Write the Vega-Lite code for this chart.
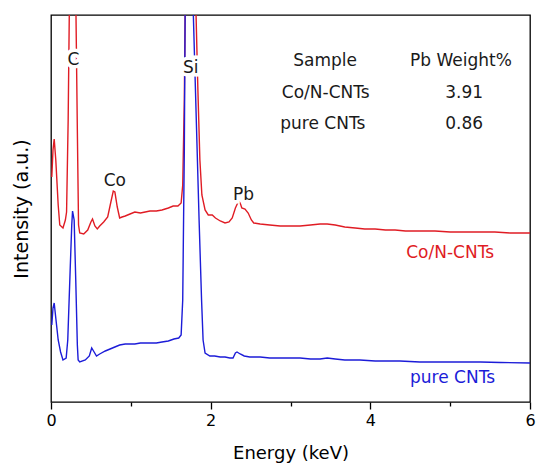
{
  "$schema": "https://vega.github.io/schema/vega-lite/v6.json",
  "width": 479,
  "height": 387,
  "autosize": {"type": "none"},
  "padding": {"left": 51, "top": 15, "right": 7, "bottom": 62},
  "background": "white",
  "config": {
    "view": {"stroke": "black", "strokeWidth": 1.3},
    "font": "DejaVu Sans",
    "text": {"font": "DejaVu Sans"}
  },
  "datasets": {
    "spectra": [
      {"sample": "Co/N-CNTs", "energy": 0.01, "intensity": 225},
      {"sample": "Co/N-CNTs", "energy": 0.025, "intensity": 252},
      {"sample": "Co/N-CNTs", "energy": 0.04, "intensity": 263},
      {"sample": "Co/N-CNTs", "energy": 0.06, "intensity": 242},
      {"sample": "Co/N-CNTs", "energy": 0.09, "intensity": 197},
      {"sample": "Co/N-CNTs", "energy": 0.11, "intensity": 177},
      {"sample": "Co/N-CNTs", "energy": 0.15, "intensity": 174},
      {"sample": "Co/N-CNTs", "energy": 0.18, "intensity": 182},
      {"sample": "Co/N-CNTs", "energy": 0.195, "intensity": 190},
      {"sample": "Co/N-CNTs", "energy": 0.215, "intensity": 282},
      {"sample": "Co/N-CNTs", "energy": 0.229, "intensity": 387},
      {"sample": "Co/N-CNTs", "energy": 0.25, "intensity": 600},
      {"sample": "Co/N-CNTs", "energy": 0.275, "intensity": 700},
      {"sample": "Co/N-CNTs", "energy": 0.30, "intensity": 500},
      {"sample": "Co/N-CNTs", "energy": 0.313, "intensity": 387},
      {"sample": "Co/N-CNTs", "energy": 0.33, "intensity": 272},
      {"sample": "Co/N-CNTs", "energy": 0.345, "intensity": 177},
      {"sample": "Co/N-CNTs", "energy": 0.36, "intensity": 169},
      {"sample": "Co/N-CNTs", "energy": 0.41, "intensity": 168},
      {"sample": "Co/N-CNTs", "energy": 0.46, "intensity": 172},
      {"sample": "Co/N-CNTs", "energy": 0.50, "intensity": 180},
      {"sample": "Co/N-CNTs", "energy": 0.52, "intensity": 183},
      {"sample": "Co/N-CNTs", "energy": 0.55, "intensity": 176},
      {"sample": "Co/N-CNTs", "energy": 0.58, "intensity": 173},
      {"sample": "Co/N-CNTs", "energy": 0.61, "intensity": 176},
      {"sample": "Co/N-CNTs", "energy": 0.66, "intensity": 180},
      {"sample": "Co/N-CNTs", "energy": 0.71, "intensity": 185},
      {"sample": "Co/N-CNTs", "energy": 0.75, "intensity": 200},
      {"sample": "Co/N-CNTs", "energy": 0.78, "intensity": 211},
      {"sample": "Co/N-CNTs", "energy": 0.80, "intensity": 210},
      {"sample": "Co/N-CNTs", "energy": 0.83, "intensity": 195},
      {"sample": "Co/N-CNTs", "energy": 0.86, "intensity": 184},
      {"sample": "Co/N-CNTs", "energy": 0.89, "intensity": 185},
      {"sample": "Co/N-CNTs", "energy": 0.93, "intensity": 186},
      {"sample": "Co/N-CNTs", "energy": 0.99, "intensity": 188},
      {"sample": "Co/N-CNTs", "energy": 1.05, "intensity": 190},
      {"sample": "Co/N-CNTs", "energy": 1.12, "intensity": 189},
      {"sample": "Co/N-CNTs", "energy": 1.18, "intensity": 190},
      {"sample": "Co/N-CNTs", "energy": 1.24, "intensity": 191},
      {"sample": "Co/N-CNTs", "energy": 1.32, "intensity": 191},
      {"sample": "Co/N-CNTs", "energy": 1.39, "intensity": 192},
      {"sample": "Co/N-CNTs", "energy": 1.47, "intensity": 194},
      {"sample": "Co/N-CNTs", "energy": 1.53, "intensity": 196},
      {"sample": "Co/N-CNTs", "energy": 1.59, "intensity": 196},
      {"sample": "Co/N-CNTs", "energy": 1.63, "intensity": 199},
      {"sample": "Co/N-CNTs", "energy": 1.65, "intensity": 217},
      {"sample": "Co/N-CNTs", "energy": 1.67, "intensity": 302},
      {"sample": "Co/N-CNTs", "energy": 1.68, "intensity": 387},
      {"sample": "Co/N-CNTs", "energy": 1.72, "intensity": 700},
      {"sample": "Co/N-CNTs", "energy": 1.77, "intensity": 700},
      {"sample": "Co/N-CNTs", "energy": 1.817, "intensity": 387},
      {"sample": "Co/N-CNTs", "energy": 1.84, "intensity": 312},
      {"sample": "Co/N-CNTs", "energy": 1.865, "intensity": 242},
      {"sample": "Co/N-CNTs", "energy": 1.89, "intensity": 207},
      {"sample": "Co/N-CNTs", "energy": 1.93, "intensity": 192},
      {"sample": "Co/N-CNTs", "energy": 1.97, "intensity": 187},
      {"sample": "Co/N-CNTs", "energy": 2.02, "intensity": 187},
      {"sample": "Co/N-CNTs", "energy": 2.06, "intensity": 184},
      {"sample": "Co/N-CNTs", "energy": 2.12, "intensity": 181},
      {"sample": "Co/N-CNTs", "energy": 2.18, "intensity": 179},
      {"sample": "Co/N-CNTs", "energy": 2.23, "intensity": 180},
      {"sample": "Co/N-CNTs", "energy": 2.27, "intensity": 184},
      {"sample": "Co/N-CNTs", "energy": 2.31, "intensity": 194},
      {"sample": "Co/N-CNTs", "energy": 2.35, "intensity": 201},
      {"sample": "Co/N-CNTs", "energy": 2.37, "intensity": 199},
      {"sample": "Co/N-CNTs", "energy": 2.39, "intensity": 194},
      {"sample": "Co/N-CNTs", "energy": 2.43, "intensity": 193},
      {"sample": "Co/N-CNTs", "energy": 2.47, "intensity": 189},
      {"sample": "Co/N-CNTs", "energy": 2.51, "intensity": 182},
      {"sample": "Co/N-CNTs", "energy": 2.54, "intensity": 179},
      {"sample": "Co/N-CNTs", "energy": 2.62, "intensity": 178},
      {"sample": "Co/N-CNTs", "energy": 2.74, "intensity": 177},
      {"sample": "Co/N-CNTs", "energy": 2.87, "intensity": 176},
      {"sample": "Co/N-CNTs", "energy": 3.0, "intensity": 176},
      {"sample": "Co/N-CNTs", "energy": 3.12, "intensity": 176},
      {"sample": "Co/N-CNTs", "energy": 3.25, "intensity": 177},
      {"sample": "Co/N-CNTs", "energy": 3.37, "intensity": 178},
      {"sample": "Co/N-CNTs", "energy": 3.46, "intensity": 178},
      {"sample": "Co/N-CNTs", "energy": 3.56, "intensity": 177},
      {"sample": "Co/N-CNTs", "energy": 3.68, "intensity": 175},
      {"sample": "Co/N-CNTs", "energy": 3.81, "intensity": 174},
      {"sample": "Co/N-CNTs", "energy": 3.93, "intensity": 173},
      {"sample": "Co/N-CNTs", "energy": 4.06, "intensity": 173},
      {"sample": "Co/N-CNTs", "energy": 4.19, "intensity": 172},
      {"sample": "Co/N-CNTs", "energy": 4.31, "intensity": 172},
      {"sample": "Co/N-CNTs", "energy": 4.44, "intensity": 171},
      {"sample": "Co/N-CNTs", "energy": 4.56, "intensity": 171},
      {"sample": "Co/N-CNTs", "energy": 4.69, "intensity": 171},
      {"sample": "Co/N-CNTs", "energy": 4.81, "intensity": 171},
      {"sample": "Co/N-CNTs", "energy": 5.0, "intensity": 170},
      {"sample": "Co/N-CNTs", "energy": 5.19, "intensity": 170},
      {"sample": "Co/N-CNTs", "energy": 5.38, "intensity": 170},
      {"sample": "Co/N-CNTs", "energy": 5.56, "intensity": 170},
      {"sample": "Co/N-CNTs", "energy": 5.75, "intensity": 169},
      {"sample": "Co/N-CNTs", "energy": 6.0, "intensity": 169},
      {"sample": "pure CNTs", "energy": 0.01, "intensity": 77},
      {"sample": "pure CNTs", "energy": 0.025, "intensity": 94},
      {"sample": "pure CNTs", "energy": 0.04, "intensity": 99},
      {"sample": "pure CNTs", "energy": 0.06, "intensity": 84},
      {"sample": "pure CNTs", "energy": 0.09, "intensity": 62},
      {"sample": "pure CNTs", "energy": 0.12, "intensity": 50},
      {"sample": "pure CNTs", "energy": 0.15, "intensity": 42},
      {"sample": "pure CNTs", "energy": 0.19, "intensity": 44},
      {"sample": "pure CNTs", "energy": 0.21, "intensity": 62},
      {"sample": "pure CNTs", "energy": 0.24, "intensity": 132},
      {"sample": "pure CNTs", "energy": 0.26, "intensity": 177},
      {"sample": "pure CNTs", "energy": 0.27, "intensity": 191},
      {"sample": "pure CNTs", "energy": 0.29, "intensity": 182},
      {"sample": "pure CNTs", "energy": 0.31, "intensity": 122},
      {"sample": "pure CNTs", "energy": 0.33, "intensity": 57},
      {"sample": "pure CNTs", "energy": 0.34, "intensity": 42},
      {"sample": "pure CNTs", "energy": 0.36, "intensity": 40},
      {"sample": "pure CNTs", "energy": 0.43, "intensity": 42},
      {"sample": "pure CNTs", "energy": 0.48, "intensity": 46},
      {"sample": "pure CNTs", "energy": 0.51, "intensity": 54},
      {"sample": "pure CNTs", "energy": 0.54, "intensity": 50},
      {"sample": "pure CNTs", "energy": 0.57, "intensity": 46},
      {"sample": "pure CNTs", "energy": 0.61, "intensity": 48},
      {"sample": "pure CNTs", "energy": 0.68, "intensity": 51},
      {"sample": "pure CNTs", "energy": 0.74, "intensity": 53},
      {"sample": "pure CNTs", "energy": 0.80, "intensity": 55},
      {"sample": "pure CNTs", "energy": 0.86, "intensity": 57},
      {"sample": "pure CNTs", "energy": 0.93, "intensity": 58},
      {"sample": "pure CNTs", "energy": 0.99, "intensity": 58},
      {"sample": "pure CNTs", "energy": 1.05, "intensity": 58},
      {"sample": "pure CNTs", "energy": 1.12, "intensity": 59},
      {"sample": "pure CNTs", "energy": 1.18, "intensity": 59},
      {"sample": "pure CNTs", "energy": 1.24, "intensity": 59},
      {"sample": "pure CNTs", "energy": 1.32, "intensity": 59},
      {"sample": "pure CNTs", "energy": 1.39, "intensity": 60},
      {"sample": "pure CNTs", "energy": 1.47, "intensity": 61},
      {"sample": "pure CNTs", "energy": 1.54, "intensity": 63},
      {"sample": "pure CNTs", "energy": 1.60, "intensity": 64},
      {"sample": "pure CNTs", "energy": 1.63, "intensity": 67},
      {"sample": "pure CNTs", "energy": 1.65, "intensity": 102},
      {"sample": "pure CNTs", "energy": 1.67, "intensity": 252},
      {"sample": "pure CNTs", "energy": 1.68, "intensity": 387},
      {"sample": "pure CNTs", "energy": 1.70, "intensity": 700},
      {"sample": "pure CNTs", "energy": 1.74, "intensity": 700},
      {"sample": "pure CNTs", "energy": 1.783, "intensity": 387},
      {"sample": "pure CNTs", "energy": 1.82, "intensity": 282},
      {"sample": "pure CNTs", "energy": 1.855, "intensity": 182},
      {"sample": "pure CNTs", "energy": 1.886, "intensity": 102},
      {"sample": "pure CNTs", "energy": 1.905, "intensity": 62},
      {"sample": "pure CNTs", "energy": 1.93, "intensity": 49},
      {"sample": "pure CNTs", "energy": 1.99, "intensity": 46},
      {"sample": "pure CNTs", "energy": 2.05, "intensity": 46},
      {"sample": "pure CNTs", "energy": 2.12, "intensity": 45},
      {"sample": "pure CNTs", "energy": 2.18, "intensity": 45},
      {"sample": "pure CNTs", "energy": 2.24, "intensity": 44},
      {"sample": "pure CNTs", "energy": 2.28, "intensity": 44},
      {"sample": "pure CNTs", "energy": 2.31, "intensity": 49},
      {"sample": "pure CNTs", "energy": 2.33, "intensity": 50},
      {"sample": "pure CNTs", "energy": 2.37, "intensity": 48},
      {"sample": "pure CNTs", "energy": 2.42, "intensity": 46},
      {"sample": "pure CNTs", "energy": 2.49, "intensity": 45},
      {"sample": "pure CNTs", "energy": 2.62, "intensity": 45},
      {"sample": "pure CNTs", "energy": 2.74, "intensity": 44},
      {"sample": "pure CNTs", "energy": 2.87, "intensity": 44},
      {"sample": "pure CNTs", "energy": 3.0, "intensity": 44},
      {"sample": "pure CNTs", "energy": 3.12, "intensity": 44},
      {"sample": "pure CNTs", "energy": 3.25, "intensity": 43},
      {"sample": "pure CNTs", "energy": 3.37, "intensity": 43},
      {"sample": "pure CNTs", "energy": 3.46, "intensity": 44},
      {"sample": "pure CNTs", "energy": 3.56, "intensity": 43},
      {"sample": "pure CNTs", "energy": 3.68, "intensity": 42},
      {"sample": "pure CNTs", "energy": 3.87, "intensity": 42},
      {"sample": "pure CNTs", "energy": 4.06, "intensity": 41},
      {"sample": "pure CNTs", "energy": 4.25, "intensity": 41},
      {"sample": "pure CNTs", "energy": 4.37, "intensity": 41},
      {"sample": "pure CNTs", "energy": 4.62, "intensity": 40},
      {"sample": "pure CNTs", "energy": 4.87, "intensity": 40},
      {"sample": "pure CNTs", "energy": 5.13, "intensity": 40},
      {"sample": "pure CNTs", "energy": 5.38, "intensity": 40},
      {"sample": "pure CNTs", "energy": 5.63, "intensity": 39.5},
      {"sample": "pure CNTs", "energy": 6.0, "intensity": 39}
    ],
    "peaks": [
      {"text": "C", "energy": 0.28, "intensity": 342},
      {"text": "Si", "energy": 1.75, "intensity": 334.5},
      {"text": "Co", "energy": 0.80, "intensity": 221.5},
      {"text": "Pb", "energy": 2.41, "intensity": 207}
    ],
    "table": [
      {"text": "Sample", "energy": 3.434, "intensity": 341},
      {"text": "Pb Weight%", "energy": 5.134, "intensity": 341},
      {"text": "Co/N-CNTs", "energy": 3.442, "intensity": 309},
      {"text": "3.91", "energy": 5.175, "intensity": 309},
      {"text": "pure CNTs", "energy": 3.405, "intensity": 278},
      {"text": "0.86", "energy": 5.175, "intensity": 278}
    ],
    "serieslabels": [
      {"sample": "Co/N-CNTs", "energy": 5.0, "intensity": 149},
      {"sample": "pure CNTs", "energy": 5.03, "intensity": 23.7}
    ]
  },
  "layer": [
    {
      "data": {"name": "spectra"},
      "mark": {"type": "line", "clip": true, "strokeWidth": 1.4, "interpolate": "linear"},
      "encoding": {
        "x": {
          "field": "energy", "type": "quantitative",
          "scale": {"domain": [0, 6], "nice": false, "zero": false},
          "axis": {
            "values": [0, 1, 2, 3, 4, 5, 6],
            "format": "d",
            "labelExpr": "datum.value % 2 === 0 ? datum.label : ''",
            "tickSize": {"condition": {"test": "datum.value % 2 === 0", "value": 7}, "value": 4},
            "tickWidth": 1.3,
            "tickColor": "black",
            "domain": false,
            "grid": false,
            "labelFontSize": 16,
            "labelColor": "black",
            "labelFont": "DejaVu Sans",
            "labelPadding": 3,
            "labelFlush": false,
            "labelOverlap": false,
            "title": "Energy (keV)",
            "titleFont": "DejaVu Sans",
            "titleFontSize": 18,
            "titleFontWeight": "normal",
            "titleColor": "black",
            "titlePadding": 16
          }
        },
        "y": {
          "field": "intensity", "type": "quantitative",
          "scale": {"domain": [0, 387], "nice": false},
          "axis": {
            "title": "Intensity (a.u.)",
            "ticks": false,
            "labels": false,
            "domain": false,
            "grid": false,
            "titleFont": "DejaVu Sans",
            "titleFontSize": 19,
            "titleFontWeight": "normal",
            "titleColor": "black",
            "titlePadding": 20
          }
        },
        "color": {
          "field": "sample", "type": "nominal",
          "scale": {"domain": ["Co/N-CNTs", "pure CNTs"], "range": ["#e01c24", "#1c1cd8"]},
          "legend": null
        },
        "order": {"field": "energy", "type": "quantitative"}
      }
    },
    {
      "data": {"name": "peaks"},
      "mark": {"type": "text", "fontSize": 17, "fill": "white", "stroke": "white", "strokeWidth": 7, "baseline": "middle", "align": "center"},
      "encoding": {
        "x": {"field": "energy", "type": "quantitative"},
        "y": {"field": "intensity", "type": "quantitative"},
        "text": {"field": "text"}
      }
    },
    {
      "data": {"name": "peaks"},
      "mark": {"type": "text", "fontSize": 17, "color": "#1a1a1a", "baseline": "middle", "align": "center"},
      "encoding": {
        "x": {"field": "energy", "type": "quantitative"},
        "y": {"field": "intensity", "type": "quantitative"},
        "text": {"field": "text"}
      }
    },
    {
      "data": {"name": "table"},
      "mark": {"type": "text", "fontSize": 17, "color": "#1a1a1a", "baseline": "middle", "align": "center"},
      "encoding": {
        "x": {"field": "energy", "type": "quantitative"},
        "y": {"field": "intensity", "type": "quantitative"},
        "text": {"field": "text"}
      }
    },
    {
      "data": {"name": "serieslabels"},
      "mark": {"type": "text", "fontSize": 17, "baseline": "middle", "align": "center"},
      "encoding": {
        "x": {"field": "energy", "type": "quantitative"},
        "y": {"field": "intensity", "type": "quantitative"},
        "text": {"field": "sample"},
        "color": {"field": "sample", "type": "nominal", "legend": null}
      }
    }
  ]
}
